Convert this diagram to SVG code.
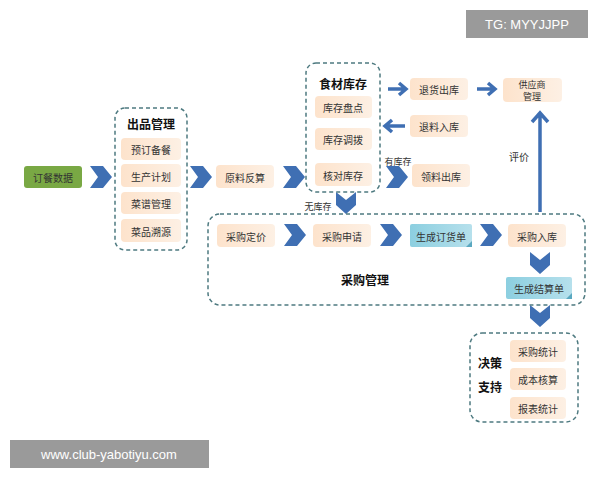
<svg xmlns="http://www.w3.org/2000/svg" width="600" height="480" viewBox="0 0 600 480">
<defs>
<linearGradient id="pg" x1="0" y1="0" x2="1" y2="0"><stop offset="0" stop-color="#fde3cc"/><stop offset="1" stop-color="#fdf0e4"/></linearGradient>
<linearGradient id="bg" x1="0" y1="0" x2="1" y2="0"><stop offset="0" stop-color="#8ccfe0"/><stop offset="1" stop-color="#b6e0ec"/></linearGradient>
<polygon id="chev" points="0,0 13,0 22,11 13,22 0,22 8,11" fill="#3f6fb3"/>
<polygon id="dchev" points="0,0 10,8 20,0 20,13 10,22 0,13" fill="#3f6fb3"/>
</defs>
<style>
text{font-family:"Noto Sans CJK SC","Liberation Sans",sans-serif;text-anchor:middle;dominant-baseline:central}
.b{fill:url(#pg);rx:4}
.bl{fill:url(#bg)}
.t{font-size:10px;fill:#333}
.h{font-size:12px;font-weight:bold;fill:#111}
.g{fill:none;stroke:#4e7a80;stroke-width:1.5;stroke-dasharray:4,3}
.s{font-size:9px;fill:#333}
</style>
<rect width="600" height="480" fill="#fff"/>
<g id="connectors">
<use href="#chev" x="90" y="166"/>
<use href="#chev" x="190" y="166"/>
<use href="#chev" x="283" y="166"/>
<use href="#chev" x="386" y="166"/>
<use href="#dchev" x="336" y="192"/>
<use href="#chev" x="284" y="224"/>
<use href="#chev" x="380" y="224"/>
<use href="#chev" x="480" y="224"/>
<use href="#dchev" x="530" y="252"/>
<use href="#dchev" x="530" y="305"/>
<g stroke="#3f6fb3" stroke-width="3.5" fill="none">
<path d="M388 89H405M399 83L406 89L399 95"/>
<path d="M477 89H494M488 83L495 89L488 95"/>
<path d="M405 126H386M392 120L385 126L392 132"/>
<path d="M540 212V114M532 122L540 113L548 122"/>
</g>
<text class="s" x="398" y="161">有库存</text>
<text class="s" x="318" y="206">无库存</text>
<text class="t" x="519" y="156">评价</text>
</g>
<g id="order"><rect x="24" y="166" width="58" height="22" rx="3" fill="#79a844"/><text class="t" x="53" y="177">订餐数据</text></g>
<g id="output">
<rect class="g" x="115" y="108" width="72" height="142" rx="10"/>
<text class="h" x="151" y="123">出品管理</text>
<rect class="b" x="121" y="138" width="60" height="22"/><text class="t" x="151" y="149">预订备餐</text>
<rect class="b" x="121" y="164" width="60" height="23"/><text class="t" x="151" y="176">生产计划</text>
<rect class="b" x="121" y="192" width="60" height="22"/><text class="t" x="151" y="203">菜谱管理</text>
<rect class="b" x="121" y="219" width="60" height="23"/><text class="t" x="151" y="231">菜品溯源</text>
</g>
<g id="calc"><rect class="b" x="216" y="165" width="58" height="23"/><text class="t" x="245" y="177">原料反算</text></g>
<g id="inventory">
<rect class="g" x="306" y="63" width="74" height="129" rx="10"/>
<text class="h" x="343" y="83">食材库存</text>
<rect class="b" x="315" y="96" width="57" height="22"/><text class="t" x="343" y="107">库存盘点</text>
<rect class="b" x="315" y="128" width="57" height="22"/><text class="t" x="343" y="139">库存调拨</text>
<rect class="b" x="315" y="163" width="57" height="23"/><text class="t" x="343" y="175">核对库存</text>
</g>
<g id="return-out"><rect class="b" x="410" y="78" width="58" height="22"/><text class="t" x="439" y="89">退货出库</text></g>
<g id="supplier"><rect class="b" x="503" y="78" width="59" height="24"/><text class="s" x="532" y="84">供应商</text><text class="s" x="532" y="96">管理</text></g>
<g id="return-in"><rect class="b" x="410" y="115" width="58" height="22"/><text class="t" x="439" y="126">退料入库</text></g>
<g id="issue"><rect class="b" x="412" y="164" width="58" height="23"/><text class="t" x="441" y="176">领料出库</text></g>
<g id="purchase">
<rect class="g" x="208" y="214" width="377" height="91" rx="12"/>
<text class="h" x="365" y="279">采购管理</text>
<rect class="b" x="217" y="224" width="58" height="23"/><text class="t" x="246" y="236">采购定价</text>
<rect class="b" x="313" y="224" width="58" height="23"/><text class="t" x="342" y="236">采购申请</text>
<rect class="bl" x="410" y="224" width="62" height="23" rx="2"/><polygon points="472,241 466,247 472,247" fill="#5aa8c0"/><text class="t" x="441" y="236">生成订货单</text>
<rect class="b" x="508" y="224" width="58" height="23"/><text class="t" x="537" y="236">采购入库</text>
<rect class="bl" x="506" y="277" width="66" height="22" rx="2"/><polygon points="572,293 566,299 572,299" fill="#5aa8c0"/><text class="t" x="539" y="288">生成结算单</text>
</g>
<g id="decision">
<rect class="g" x="470" y="333" width="108" height="89" rx="12"/>
<text class="h" x="490" y="362">决策</text><text class="h" x="490" y="386">支持</text>
<rect class="b" x="510" y="340" width="56" height="22"/><text class="t" x="538" y="351">采购统计</text>
<rect class="b" x="510" y="368" width="56" height="22"/><text class="t" x="538" y="379">成本核算</text>
<rect class="b" x="510" y="397" width="56" height="22"/><text class="t" x="538" y="408">报表统计</text>
</g>
<g id="tags">
<rect x="466" y="10" width="122" height="28" fill="#9a9a9a"/><text x="527" y="24" font-size="13" fill="#fff" style="font-family:'Liberation Sans',sans-serif">TG: MYYJJPP</text>
<rect x="10" y="440" width="199" height="28" fill="#9a9a9a"/><text x="109" y="454" font-size="13" fill="#fff" style="font-family:'Liberation Sans',sans-serif">www.club-yabotiyu.com</text>
</g>
</svg>
